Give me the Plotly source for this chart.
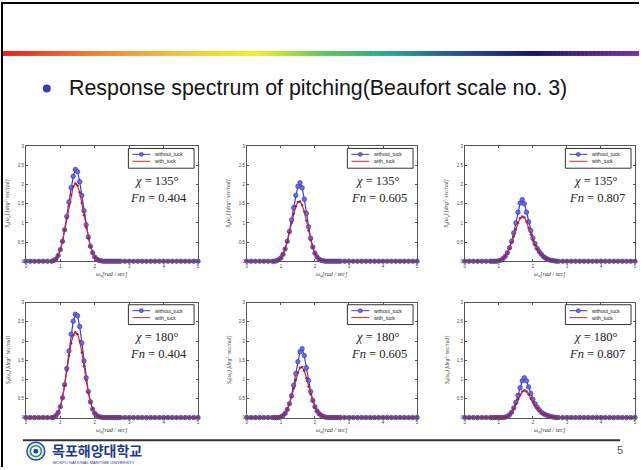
import plotly.graph_objects as go

W, H = 641, 470

# ---------------- data ----------------
omega = [0.0, 0.125, 0.25, 0.375, 0.5, 0.625,
         0.75, 0.8125, 0.875, 0.9375, 1.0, 1.0625, 1.125, 1.1875, 1.25, 1.3125,
         1.375, 1.4375, 1.5, 1.5625, 1.625, 1.6875, 1.75, 1.8125, 1.875, 1.9375,
         2.0, 2.0625, 2.125, 2.1875, 2.25, 2.3125, 2.375, 2.4375, 2.5, 2.5625,
         2.625, 2.6875,
         2.75, 2.875, 3.0, 3.125, 3.25, 3.375, 3.5, 3.625, 3.75, 3.875,
         4.0, 4.125, 4.25, 4.375, 4.5, 4.625, 4.75, 4.875, 5.0]

A_without = [0, 0, 0, 0, 0, 0,
             0, 0.02, 0.06, 0.15, 0.30, 0.52, 0.82, 1.17, 1.55, 1.92,
             2.22, 2.40, 2.34, 2.08, 1.72, 1.32, 0.95, 0.63, 0.39, 0.22,
             0.11, 0.05, 0.02, 0.01, 0, 0, 0, 0, 0, 0,
             0, 0,
             0, 0, 0, 0, 0, 0, 0, 0, 0, 0, 0, 0, 0, 0, 0, 0, 0, 0, 0]
A_with = [0, 0, 0, 0, 0, 0,
          0, 0.02, 0.06, 0.15, 0.30, 0.51, 0.80, 1.12, 1.45, 1.74,
          1.95, 2.03, 1.98, 1.80, 1.52, 1.20, 0.88, 0.60, 0.38, 0.21,
          0.11, 0.05, 0.02, 0.01, 0, 0, 0, 0, 0, 0,
          0, 0,
          0, 0, 0, 0, 0, 0, 0, 0, 0, 0, 0, 0, 0, 0, 0, 0, 0, 0, 0]

B_without = [0, 0, 0, 0, 0, 0,
             0, 0, 0.01, 0.04, 0.09, 0.18, 0.32, 0.52, 0.78, 1.08,
             1.40, 1.72, 1.96, 2.05, 1.92, 1.62, 1.25, 0.90, 0.60, 0.37,
             0.21, 0.11, 0.05, 0.02, 0.01, 0, 0, 0, 0, 0,
             0, 0,
             0, 0, 0, 0, 0, 0, 0, 0, 0, 0, 0, 0, 0, 0, 0, 0, 0, 0, 0]
B_with = [0, 0, 0, 0, 0, 0,
          0, 0, 0.01, 0.04, 0.09, 0.18, 0.32, 0.51, 0.75, 1.00,
          1.24, 1.44, 1.55, 1.56, 1.47, 1.30, 1.06, 0.80, 0.55, 0.35,
          0.20, 0.11, 0.05, 0.02, 0.01, 0, 0, 0, 0, 0,
          0, 0,
          0, 0, 0, 0, 0, 0, 0, 0, 0, 0, 0, 0, 0, 0, 0, 0, 0, 0, 0]

C_without = [0, 0, 0, 0, 0, 0,
             0, 0, 0, 0, 0.01, 0.03, 0.07, 0.13, 0.22, 0.35,
             0.52, 0.74, 1.00, 1.28, 1.52, 1.61, 1.50, 1.28, 1.03, 0.80,
             0.61, 0.46, 0.34, 0.25, 0.18, 0.12, 0.08, 0.05, 0.03, 0.02,
             0.01, 0,
             0, 0, 0, 0, 0, 0, 0, 0, 0, 0, 0, 0, 0, 0, 0, 0, 0, 0, 0]
C_with = [0, 0, 0, 0, 0, 0,
          0, 0, 0, 0, 0.01, 0.03, 0.07, 0.13, 0.21, 0.33,
          0.48, 0.65, 0.83, 1.00, 1.12, 1.17, 1.14, 1.03, 0.87, 0.70,
          0.54, 0.42, 0.32, 0.24, 0.17, 0.12, 0.08, 0.05, 0.03, 0.02,
          0.01, 0,
          0, 0, 0, 0, 0, 0, 0, 0, 0, 0, 0, 0, 0, 0, 0, 0, 0, 0, 0]

D_without = [0, 0, 0, 0, 0, 0,
             0, 0.01, 0.05, 0.13, 0.28, 0.52, 0.86, 1.28, 1.74, 2.18,
             2.52, 2.70, 2.66, 2.38, 1.95, 1.48, 1.04, 0.68, 0.41, 0.22,
             0.11, 0.05, 0.02, 0.01, 0, 0, 0, 0, 0, 0,
             0, 0,
             0, 0, 0, 0, 0, 0, 0, 0, 0, 0, 0, 0, 0, 0, 0, 0, 0, 0, 0]
D_with = [0, 0, 0, 0, 0, 0,
          0, 0.01, 0.05, 0.13, 0.28, 0.51, 0.84, 1.22, 1.62, 1.94,
          2.15, 2.23, 2.18, 2.00, 1.70, 1.34, 0.97, 0.65, 0.40, 0.22,
          0.11, 0.05, 0.02, 0.01, 0, 0, 0, 0, 0, 0,
          0, 0,
          0, 0, 0, 0, 0, 0, 0, 0, 0, 0, 0, 0, 0, 0, 0, 0, 0, 0, 0]

E_without = [0, 0, 0, 0, 0, 0,
             0, 0, 0, 0, 0.02, 0.05, 0.11, 0.21, 0.36, 0.57,
             0.84, 1.15, 1.46, 1.72, 1.80, 1.62, 1.30, 0.97, 0.68, 0.45,
             0.28, 0.17, 0.10, 0.05, 0.03, 0.01, 0, 0, 0, 0,
             0, 0,
             0, 0, 0, 0, 0, 0, 0, 0, 0, 0, 0, 0, 0, 0, 0, 0, 0, 0, 0]
E_with = [0, 0, 0, 0, 0, 0,
          0, 0, 0, 0, 0.02, 0.05, 0.11, 0.21, 0.35, 0.54,
          0.76, 0.98, 1.17, 1.30, 1.32, 1.22, 1.03, 0.81, 0.60, 0.42,
          0.27, 0.17, 0.10, 0.05, 0.03, 0.01, 0, 0, 0, 0,
          0, 0,
          0, 0, 0, 0, 0, 0, 0, 0, 0, 0, 0, 0, 0, 0, 0, 0, 0, 0, 0]

F_without = [0, 0, 0, 0, 0, 0,
             0, 0, 0, 0, 0, 0, 0, 0.01, 0.03, 0.07,
             0.14, 0.25, 0.40, 0.58, 0.78, 0.96, 1.04, 0.96, 0.80, 0.63,
             0.48, 0.36, 0.27, 0.20, 0.14, 0.10, 0.07, 0.05, 0.03, 0.02,
             0.01, 0,
             0, 0, 0, 0, 0, 0, 0, 0, 0, 0, 0, 0, 0, 0, 0, 0, 0, 0, 0]
F_with = [0, 0, 0, 0, 0, 0,
          0, 0, 0, 0, 0, 0, 0, 0.01, 0.03, 0.07,
          0.13, 0.23, 0.35, 0.48, 0.60, 0.68, 0.71, 0.68, 0.60, 0.50,
          0.40, 0.31, 0.24, 0.18, 0.13, 0.09, 0.07, 0.05, 0.03, 0.02,
          0.01, 0,
          0, 0, 0, 0, 0, 0, 0, 0, 0, 0, 0, 0, 0, 0, 0, 0, 0, 0, 0]

headings = ["135°", "135°", "135°", "180°", "180°", "180°"]
froude = ["0.404", "0.605", "0.807", "0.404", "0.605", "0.807"]
legend_labels = ["without_tuck", "with_tuck"]
x_ticks = [0, 1, 2, 3, 4, 5]
y_ticks = [0, 0.5, 1, 1.5, 2, 2.5, 3]
slide_title = "Response spectrum of pitching(Beaufort scale no. 3)"
univ_name = "목포해양대학교"
univ_sub = "MOKPO NATIONAL MARITIME UNIVERSITY"
page_no = "5"

panels = [(A_without, A_with), (B_without, B_with), (C_without, C_with),
          (D_without, D_with), (E_without, E_with), (F_without, F_with)]

# ---------------- layout helpers ----------------
cols = [(25, 198), (247, 418), (466, 637)]
rows = [(146, 262), (304, 420)]


def fx(px):
    return px / W


def fy(py):
    return 1 - py / H


BLUE = "#3c3cd2"
BLUE_M = "#6a6af0"
RED = "#d42a2a"
SERIF = "Liberation Serif, Times New Roman, serif"
SANS = "Liberation Sans, Arial, sans-serif"

fig = go.Figure()
shapes = []
annotations = []


def note(xp, yp, text, size, family, color, xanchor="center", angle=0):
    annotations.append(dict(x=fx(xp), y=fy(yp), xref="paper", yref="paper",
                            xanchor=xanchor, yanchor="middle", text=text, showarrow=False,
                            textangle=angle, font=dict(size=size, family=family, color=color)))


for k, (wo, wi) in enumerate(panels):
    r, c = divmod(k, 3)
    l, rr = cols[c]
    t, b = rows[r]
    sfx = "" if k == 0 else str(k + 1)
    fig.add_trace(go.Scatter(
        x=omega, y=wo, xaxis="x" + sfx, yaxis="y" + sfx, mode="lines+markers",
        line=dict(color=BLUE, width=1.2),
        marker=dict(symbol="circle", size=4.5, color=BLUE_M, line=dict(color="#2a2a9a", width=0.6)),
        cliponaxis=False, showlegend=False, name=legend_labels[0]))
    fig.add_trace(go.Scatter(
        x=omega, y=wi, xaxis="x" + sfx, yaxis="y" + sfx, mode="lines+markers",
        line=dict(color=RED, width=1.2),
        marker=dict(symbol="circle", size=2.5, color="#9a2050"),
        cliponaxis=False, showlegend=False, name=legend_labels[1]))
    axcommon = dict(showgrid=False, zeroline=False, showline=True, linecolor="#555",
                    linewidth=1, mirror="allticks", ticks="inside", ticklen=2,
                    tickcolor="#555", tickfont=dict(size=4.5, color="#444", family=SANS))
    fig.update_layout({
        "xaxis" + sfx: dict(domain=[fx(l), fx(rr)], anchor="y" + sfx, range=[0, 5],
                            tickvals=x_ticks, **axcommon),
        "yaxis" + sfx: dict(domain=[fy(b), fy(t)], anchor="x" + sfx, range=[0, 3],
                            tickvals=y_ticks, **axcommon),
    })
    # axis titles
    note((l + rr) / 2, b + 13, "<i>ω<sub>e</sub>[rad / sec]</i>", 6, SERIF, "#333")
    note(l - 18, (t + b) / 2, "<i>S<sub>θ</sub>(ω<sub>e</sub>) [deg<sup>2</sup>· sec/rad]</i>",
         5.5, SERIF, "#333", angle=-90)
    # heading / Froude number
    note(l + 132, t + 35, "<i>χ</i> = " + headings[k], 12.5, SERIF, "#222")
    note(l + 133, t + 52, "<i>Fn</i> = " + froude[k], 12.5, SERIF, "#222")
    # legend box
    bx1, by0 = rr - 4, t + 2
    bx0, by1 = bx1 - 66, by0 + 20
    shapes.append(dict(type="rect", xref="paper", yref="paper", x0=fx(bx0), x1=fx(bx1),
                       y0=fy(by1), y1=fy(by0), line=dict(color="#333", width=1),
                       fillcolor="white"))
    ly1, ly2 = by0 + 6, by0 + 13
    shapes.append(dict(type="line", xref="paper", yref="paper", x0=fx(bx0 + 4), x1=fx(bx0 + 22),
                       y0=fy(ly1), y1=fy(ly1), line=dict(color=BLUE, width=1)))
    shapes.append(dict(type="circle", xref="paper", yref="paper", x0=fx(bx0 + 11), x1=fx(bx0 + 15),
                       y0=fy(ly1 + 2), y1=fy(ly1 - 2), line=dict(color="#2a2a9a", width=0.6),
                       fillcolor=BLUE_M))
    shapes.append(dict(type="line", xref="paper", yref="paper", x0=fx(bx0 + 4), x1=fx(bx0 + 22),
                       y0=fy(ly2), y1=fy(ly2), line=dict(color=RED, width=1)))
    note(bx0 + 25, ly1, legend_labels[0], 5, SANS, "#222", xanchor="left")
    note(bx0 + 25, ly2, legend_labels[1], 5, SANS, "#222", xanchor="left")

# ---------------- slide decoration ----------------
stops = [(0, (220, 35, 30)), (90, (238, 125, 50)), (180, (240, 195, 60)), (255, (242, 240, 45)),
         (325, (90, 200, 90)), (395, (40, 160, 140)), (465, (40, 75, 150)), (535, (20, 20, 110)),
         (641, (125, 45, 175))]


def col_at(px):
    for (p0, c0), (p1, c1) in zip(stops[:-1], stops[1:]):
        if p0 <= px <= p1:
            f = (px - p0) / (p1 - p0)
            return "rgb(%d,%d,%d)" % tuple(round(a + (b_ - a) * f) for a, b_ in zip(c0, c1))
    return "rgb(125,45,175)"


seg = 4
for x0 in range(2, W, seg):
    shapes.append(dict(type="rect", xref="paper", yref="paper", x0=fx(x0), x1=fx(min(x0 + seg + 0.5, W)),
                       y0=fy(54.5), y1=fy(49.5), line=dict(width=0), fillcolor=col_at(x0 + seg / 2)))

# border lines
shapes.append(dict(type="line", xref="paper", yref="paper", x0=fx(1), x1=fx(1), y0=0, y1=1,
                   line=dict(color="black", width=2)))
shapes.append(dict(type="line", xref="paper", yref="paper", x0=0, x1=1, y0=fy(1), y1=fy(1),
                   line=dict(color="black", width=2)))
# bottom rule
shapes.append(dict(type="line", xref="paper", yref="paper", x0=fx(22), x1=fx(622), y0=fy(443), y1=fy(443),
                   line=dict(color="#333", width=2)))
# bullet
shapes.append(dict(type="circle", xref="paper", yref="paper", x0=fx(42), x1=fx(50), y0=fy(91.5), y1=fy(83.5),
                   line=dict(width=0), fillcolor="#3a3ac0"))
# logo emblem
shapes.append(dict(type="circle", xref="paper", yref="paper", x0=fx(26), x1=fx(44), y0=fy(463), y1=fy(445),
                   line=dict(color="#1f4fa0", width=1.5), fillcolor="#dfe9f5"))
shapes.append(dict(type="circle", xref="paper", yref="paper", x0=fx(29.5), x1=fx(40.5), y0=fy(459.5), y1=fy(448.5),
                   line=dict(color="#2f8a4a", width=1.5), fillcolor="white"))
shapes.append(dict(type="circle", xref="paper", yref="paper", x0=fx(32.5), x1=fx(37.5), y0=fy(456.5), y1=fy(451.5),
                   line=dict(width=0), fillcolor="#1f4fa0"))

note(66, 87, slide_title, 21.4, SANS, "#151515", xanchor="left")
note(49, 453, "<b>" + univ_name + "</b>", 14, "Noto Sans CJK KR", "#1d3a8a", xanchor="left")
note(50, 465, univ_sub, 4, SANS, "#1d3a8a", xanchor="left")
note(622, 453, page_no, 11, SANS, "#555")

fig.update_layout(width=W, height=H, margin=dict(l=0, r=0, t=0, b=0),
                  paper_bgcolor="white", plot_bgcolor="white",
                  shapes=shapes, annotations=annotations, showlegend=False)

fig.write_html("out.html")
